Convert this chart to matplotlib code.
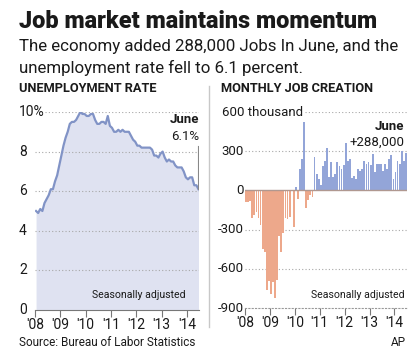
import numpy as np
import matplotlib
matplotlib.use("Agg")
import matplotlib.pyplot as plt

# Unemployment rate, monthly Jan 2008 - Jun 2014 (percent)
unemp = [5.0, 4.9, 5.1, 5.0, 5.4, 5.6, 5.8, 6.1, 6.1, 6.5, 6.8, 7.3,
         7.8, 8.3, 8.7, 9.0, 9.4, 9.5, 9.5, 9.6, 9.8, 10.0, 9.9, 9.9,
         9.8, 9.8, 9.9, 9.9, 9.6, 9.4, 9.4, 9.5, 9.5, 9.4, 9.8, 9.3,
         9.2, 9.0, 9.0, 9.1, 9.0, 9.1, 9.0, 9.0, 9.0, 8.8, 8.6, 8.5,
         8.3, 8.3, 8.2, 8.2, 8.2, 8.2, 8.2, 8.1, 7.8, 7.8, 7.7, 7.9,
         8.0, 7.7, 7.5, 7.6, 7.5, 7.5, 7.3, 7.2, 7.2, 7.2, 7.0, 6.7,
         6.6, 6.7, 6.7, 6.3, 6.3, 6.1]

# Monthly payroll change, Jan 2008 - Jun 2014 (thousands)
jobs = [-90, -85, -80, -215, -186, -162, -213, -267, -450, -474, -766, -694,
        -793, -702, -823, -687, -349, -471, -329, -212, -219, -200, -7, -279,
        28, -69, 163, 243, 522, -133, -70, -34, -52, 257, 123, 88,
        42, 188, 225, 322, 102, 217, 106, 122, 221, 183, 164, 196,
        360, 226, 243, 96, 110, 88, 160, 150, 161, 225, 203, 214,
        197, 280, 141, 203, 199, 201, 149, 202, 164, 237, 274, 84,
        144, 222, 203, 304, 224, 288]

years = [2008, 2009, 2010, 2011, 2012, 2013, 2014]
year_labels = ["'08", "'09", "'10", "'11", "'12", "'13", "'14"]
unemp_ticks = [0, 2, 4, 6, 8, 10]
unemp_tick_labels = ["0", "2", "4", "6", "8", "10%"]
jobs_ticks = [-900, -600, -300, 0, 300]

W, H = 414, 361
plt.rcParams['font.family'] = ['Roboto', 'DejaVu Sans']

fig = plt.figure(figsize=(W / 100, H / 100), dpi=100)


def fx(px):
    return px / W


def fy(py):
    return 1 - py / H


grid_col = "#a8a8a8"
text_col = "#1a1a1a"

# Titles
fig.text(fx(19), fy(21), "Job market maintains momentum", fontsize=16.9,
         fontweight="black", color=text_col, va="center", ha="left")
fig.text(fx(19), fy(47), "The economy added 288,000 Jobs In June, and the",
         fontsize=12.2, color=text_col, va="center", ha="left")
fig.text(fx(19), fy(68), "unemployment rate fell to 6.1 percent.",
         fontsize=12.2, color=text_col, va="center", ha="left")

fig.text(fx(19), fy(89), "UNEMPLOYMENT RATE", fontsize=9.2,
         fontweight="bold", color=text_col, va="center", ha="left")
fig.text(fx(221), fy(89), "MONTHLY JOB CREATION", fontsize=9.2,
         fontweight="bold", color=text_col, va="center", ha="left")

# divider
fig.add_artist(plt.Line2D([fx(209), fx(209)], [fy(86), fy(327)],
                          color="#c8c8c8", lw=1))

# ---------- Unemployment rate ----------
months = np.arange(len(unemp))
t = 2008 + (months + 0.5) / 12

ax1 = fig.add_axes([fx(35), fy(310), fx(199) - fx(35), fy(112) - fy(310)])
ax1.fill_between(t, unemp, 0, color="#dfe2f1", lw=0, zorder=1)
ax1.plot(t, unemp, color="#8193c6", lw=1.6, zorder=3)
for v in unemp_ticks[1:]:
    ax1.axhline(v, color=grid_col, lw=0.8, ls=(0, (1, 2)), zorder=2)
ax1.set_xlim(2008, t[-1] + 0.02)
ax1.set_ylim(0, 10)
ax1.set_yticks([])
ax1.set_xticks(years)
ax1.set_xticklabels(year_labels, fontsize=10, color=text_col)
ax1.tick_params(axis="x", length=5, width=0.8, color="#777777", pad=1)
for s in ["top", "right", "left"]:
    ax1.spines[s].set_visible(False)
ax1.spines["bottom"].set_color("#777777")
ax1.spines["bottom"].set_linewidth(0.8)
for v, lab in zip(unemp_ticks, unemp_tick_labels):
    ax1.text(-16 / 164, v, lab, transform=ax1.get_yaxis_transform(),
             ha="left", va="center", fontsize=10, color=text_col,
             bbox=dict(fc="white", ec="none", pad=0.5) if v == 10 else None)
ax1.plot([t[-1], t[-1]], [unemp[-1], 8.3], color="#888888", lw=0.8, zorder=3)
ax1.text(t[-1] + 0.02, 9.6, "June", ha="right", va="center", fontsize=9.5,
         fontweight="bold", color=text_col)
ax1.text(t[-1] + 0.02, 8.75, "6.1%", ha="right", va="center", fontsize=9.5,
         color=text_col)
ax1.text(t[-1] - 0.5, 0.75, "Seasonally adjusted", ha="right", va="center",
         fontsize=7.6, color=text_col)

# ---------- Job creation ----------
tj = 2008 + (np.arange(len(jobs)) + 0.5) / 12
colors = ["#eda88b" if v < 0 else "#93a5d8" for v in jobs]

ax2 = fig.add_axes([fx(245), fy(308), fx(407) - fx(245), fy(112) - fy(308)])
for v in [600, 300, -300, -600]:
    ax2.axhline(v, color=grid_col, lw=0.8, ls=(0, (1, 2)), zorder=1)
ax2.bar(tj, jobs, width=0.88 / 12, color=colors, lw=0, zorder=2)
ax2.axhline(0, color="#b09890", lw=1, zorder=3)
ax2.set_xlim(2008, tj[-1] + 0.045)
ax2.set_ylim(-900, 600)
ax2.set_yticks([])
ax2.set_xticks(years)
ax2.set_xticklabels(year_labels, fontsize=10, color=text_col)
ax2.tick_params(axis="x", length=5, width=0.8, color="#777777", pad=1)
for s in ["top", "right", "left"]:
    ax2.spines[s].set_visible(False)
ax2.spines["bottom"].set_color("#999999")
ax2.spines["bottom"].set_linestyle((0, (1, 2)))
ax2.spines["bottom"].set_linewidth(0.8)
for v in jobs_ticks:
    ax2.text(-0.01, v, str(v), transform=ax2.get_yaxis_transform(),
             ha="right", va="center", fontsize=9.5, color=text_col)
ax2.text(-0.14, 600, "600 thousand", transform=ax2.get_yaxis_transform(),
         ha="left", va="center", fontsize=9.5, color=text_col,
         bbox=dict(fc="white", ec="none", pad=1))
ax2.text(tj[-1] - 0.05, 490, "June", ha="right", va="center", fontsize=9.5,
         fontweight="bold", color=text_col)
ax2.text(tj[-1] - 0.05, 370, "+288,000", ha="right", va="center",
         fontsize=9.5, color=text_col)
ax2.text(tj[-1] - 0.05, -800, "Seasonally adjusted", ha="right",
         va="center", fontsize=7.6, color=text_col)

fig.text(fx(19), fy(342), "Source: Bureau of Labor Statistics", fontsize=8.5,
         color=text_col, va="center", ha="left")
fig.text(fx(406), fy(342), "AP", fontsize=8.5, color=text_col,
         va="center", ha="right")

fig.savefig("out.png", dpi=100)
